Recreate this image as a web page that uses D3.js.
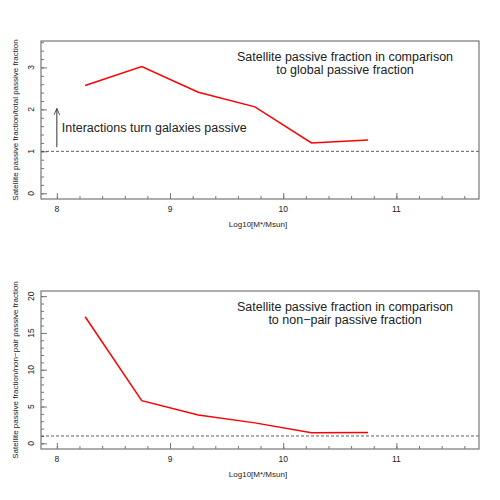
<!DOCTYPE html>
<html>
<head>
<meta charset="utf-8">
<script src="https://cdn.jsdelivr.net/npm/d3@7"></script>
<style>
  body { margin: 0; background: #fff; }
  text { font-family: "Liberation Sans", Arial, sans-serif; fill: #222; }
</style>
</head>
<body>
<div class="canvas"></div>
<script>
// mass bins (log10 M*/Msun)
const massBins = [8.25, 8.75, 9.25, 9.75, 10.25, 10.75];
// satellite passive fraction / total passive fraction
const ratioGlobal = [2.57, 3.02, 2.41, 2.06, 1.2, 1.27];
// satellite passive fraction / non-pair passive fraction
const ratioNonPair = [17.2, 5.8, 3.85, 2.78, 1.45, 1.48];
const xTicks = [8, 9, 10, 11];
const yTicksTop = [0, 1, 2, 3];
const yTicksBottom = [0, 5, 10, 15, 20];

const w = 500;
const h = 500;

const svg = d3
  .select(".canvas")
  .append("svg")
  .attr("width", w)
  .attr("height", h);

// draw one panel
function drawPanel(opts) {
  const margin = { left: 41, right: 21 };
  const graphWidth = w - margin.left - margin.right;
  const graphHeight = 158;

  const graph = svg
    .append("g")
    .attr("transform", `translate(${margin.left}, ${opts.top})`);

  // x scale
  const x = d3.scaleLinear().domain([7.86, 11.73]).range([0, graphWidth]);
  // y scale
  const y = d3.scaleLinear().domain(opts.yDomain).range([graphHeight, 0]);

  // minor ticks (inward)
  const xAxisMinor = d3
    .axisTop(x)
    .tickValues(d3.range(80, 118, 2).map(d => d / 10))
    .tickSize(3)
    .tickFormat("");
  const xAxisMajor = d3.axisTop(x).tickValues(xTicks).tickSize(6).tickFormat("");
  const yAxisMinor = d3
    .axisRight(y)
    .tickValues(d3.range(opts.minorFrom, opts.minorTo + 1e-9, opts.minorStep).map(d => +d.toFixed(2)))
    .tickSize(3)
    .tickFormat("");
  const yAxisMajor = d3.axisRight(y).tickValues(opts.yTicks).tickSize(6).tickFormat("");

  [xAxisMinor, xAxisMajor].forEach(ax => {
    graph
      .append("g")
      .attr("transform", `translate(0, ${graphHeight})`)
      .call(ax)
      .call(g => g.select(".domain").remove())
      .selectAll("line")
      .attr("stroke", "#777");
  });
  [yAxisMinor, yAxisMajor].forEach(ax => {
    graph
      .append("g")
      .call(ax)
      .call(g => g.select(".domain").remove())
      .selectAll("line")
      .attr("stroke", "#777");
  });

  // tick labels
  graph
    .selectAll(".xlab")
    .data(xTicks)
    .enter()
    .append("text")
    .attr("x", d => x(d))
    .attr("y", graphHeight + 13)
    .attr("text-anchor", "middle")
    .attr("font-size", 8.5)
    .text(d => d);

  graph
    .selectAll(".ylab")
    .data(opts.yTicks)
    .enter()
    .append("text")
    .attr("transform", d => `translate(-7, ${y(d)}) rotate(-90)`)
    .attr("text-anchor", "middle")
    .attr("font-size", 8.5)
    .text(d => d);

  // axis titles
  graph
    .append("text")
    .attr("x", graphWidth / 2 - 2)
    .attr("y", graphHeight + 28)
    .attr("text-anchor", "middle")
    .attr("font-size", 8)
    .text("Log10[M*/Msun]");

  graph
    .append("text")
    .attr("transform", `translate(-23, ${graphHeight / 2}) rotate(-90)`)
    .attr("text-anchor", "middle")
    .attr("font-size", 8)
    .text(opts.yTitle);

  // reference line at 1
  graph
    .append("line")
    .attr("x1", 0)
    .attr("x2", graphWidth)
    .attr("y1", y(1))
    .attr("y2", y(1))
    .attr("stroke", "#333")
    .attr("stroke-width", 0.8)
    .attr("stroke-dasharray", "3,2");

  // data line
  const line = d3
    .line()
    .x((d, i) => x(massBins[i]))
    .y(d => y(d));

  graph
    .append("path")
    .datum(opts.values)
    .attr("d", line)
    .attr("fill", "none")
    .attr("stroke", "red")
    .attr("stroke-width", 1.5);

  // title
  const title = graph
    .append("text")
    .attr("x", 304)
    .attr("y", 20)
    .attr("text-anchor", "middle")
    .attr("font-size", 12.5);
  opts.title.forEach((t, i) => {
    title
      .append("tspan")
      .attr("x", 304)
      .attr("dy", i === 0 ? 0 : 13)
      .text(t);
  });

  // frame
  graph
    .append("rect")
    .attr("width", graphWidth)
    .attr("height", graphHeight)
    .attr("fill", "none")
    .attr("stroke", "#777")
    .attr("stroke-width", 1.2);

  return { graph, x, y };
}

const topPanel = drawPanel({
  top: 41,
  yDomain: [-0.136, 3.63],
  yTicks: yTicksTop,
  minorFrom: 0,
  minorTo: 3.6,
  minorStep: 0.2,
  values: ratioGlobal,
  yTitle: "Satellite passive fraction/total passive fraction",
  title: ["Satellite passive fraction in comparison", "to global passive fraction"]
});

drawPanel({
  top: 291,
  yDomain: [-0.77, 20.7],
  yTicks: yTicksBottom,
  minorFrom: 0,
  minorTo: 20,
  minorStep: 1,
  values: ratioNonPair,
  yTitle: "Satellite passive fraction/non\u2212pair passive fraction",
  title: ["Satellite passive fraction in comparison", "to non\u2212pair passive fraction"]
});

// annotation arrow in top panel
const defs = svg.append("defs");
defs
  .append("marker")
  .attr("id", "head")
  .attr("viewBox", "0 0 10 10")
  .attr("refX", 9)
  .attr("refY", 5)
  .attr("markerWidth", 7)
  .attr("markerHeight", 7)
  .attr("orient", "auto")
  .append("path")
  .attr("d", "M0,1 L9,5 L0,9")
  .attr("fill", "none")
  .attr("stroke", "#333")
  .attr("stroke-width", 1.2);

topPanel.graph
  .append("line")
  .attr("x1", topPanel.x(8))
  .attr("x2", topPanel.x(8))
  .attr("y1", topPanel.y(1.1))
  .attr("y2", topPanel.y(2.02))
  .attr("stroke", "#333")
  .attr("stroke-width", 1)
  .attr("marker-end", "url(#head)");

topPanel.graph
  .append("text")
  .attr("x", topPanel.x(8) + 5)
  .attr("y", topPanel.y(1.45))
  .attr("font-size", 12.5)
  .text("Interactions turn galaxies passive");
</script>
</body>
</html>
